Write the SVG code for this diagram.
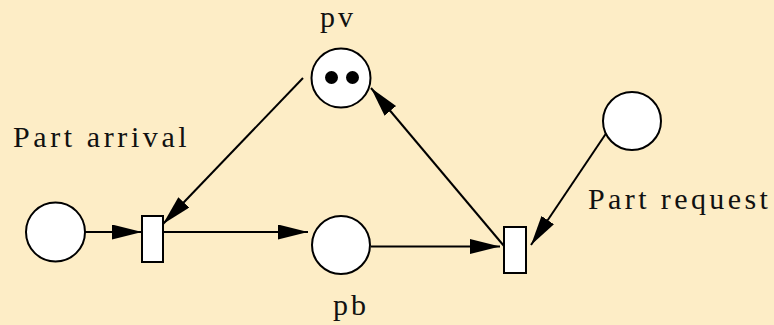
<svg xmlns="http://www.w3.org/2000/svg" width="774" height="325" viewBox="0 0 774 325">
<style>
.place{fill:#fff;stroke:#000;stroke-width:2}
.trans{fill:#fff;stroke:#000;stroke-width:2}
.tok{fill:#000}
.arc{stroke:#000;stroke-width:2;fill:none}
</style>
<defs>
<marker id="ah" markerUnits="userSpaceOnUse" markerWidth="32" markerHeight="16" refX="30" refY="7.5" orient="auto" viewBox="0 0 32 16">
<path d="M0,0 L30,7.5 L0,15 z" fill="#000"/>
</marker>
</defs>
<rect width="774" height="325" fill="#FDEDC6"/>
<g id="connectors">
<line class="arc" x1="85" y1="232" x2="142" y2="232" marker-end="url(#ah)"/>
<line class="arc" x1="163" y1="232" x2="308" y2="232" marker-end="url(#ah)"/>
<line class="arc" x1="371" y1="246.5" x2="500" y2="246.5" marker-end="url(#ah)"/>
<line class="arc" x1="504" y1="246" x2="371" y2="88" marker-end="url(#ah)"/>
<line class="arc" x1="607" y1="132" x2="531" y2="245" marker-end="url(#ah)"/>
<line class="arc" x1="303" y1="78" x2="163" y2="224" marker-end="url(#ah)"/>
</g>
<g id="p-arrival">
<circle class="place" cx="55.5" cy="232" r="29.5"/>
<text x="13" y="147" font-family="Liberation Serif, Times New Roman, serif" font-size="30" letter-spacing="3.6" fill="#111">Part arrival</text>
</g>
<g id="t-arrival">
<rect class="trans" x="142" y="216" width="21" height="46"/>
</g>
<g id="pv">
<circle class="place" cx="341" cy="78" r="29.5"/>
<circle class="tok" cx="331.5" cy="77.5" r="6.5"/>
<circle class="tok" cx="352.5" cy="77.5" r="6.5"/>
<text x="320" y="27" font-family="Liberation Serif, Times New Roman, serif" font-size="30" letter-spacing="3" fill="#111">pv</text>
</g>
<g id="pb">
<circle class="place" cx="341" cy="245" r="29"/>
<text x="333" y="315" font-family="Liberation Serif, Times New Roman, serif" font-size="30" letter-spacing="3" fill="#111">pb</text>
</g>
<g id="t-request">
<rect class="trans" x="504" y="227" width="22" height="46"/>
</g>
<g id="p-request">
<circle class="place" cx="632" cy="121" r="29"/>
<text x="588" y="209" font-family="Liberation Serif, Times New Roman, serif" font-size="30" letter-spacing="3.4" fill="#111">Part request</text>
</g>
</svg>
